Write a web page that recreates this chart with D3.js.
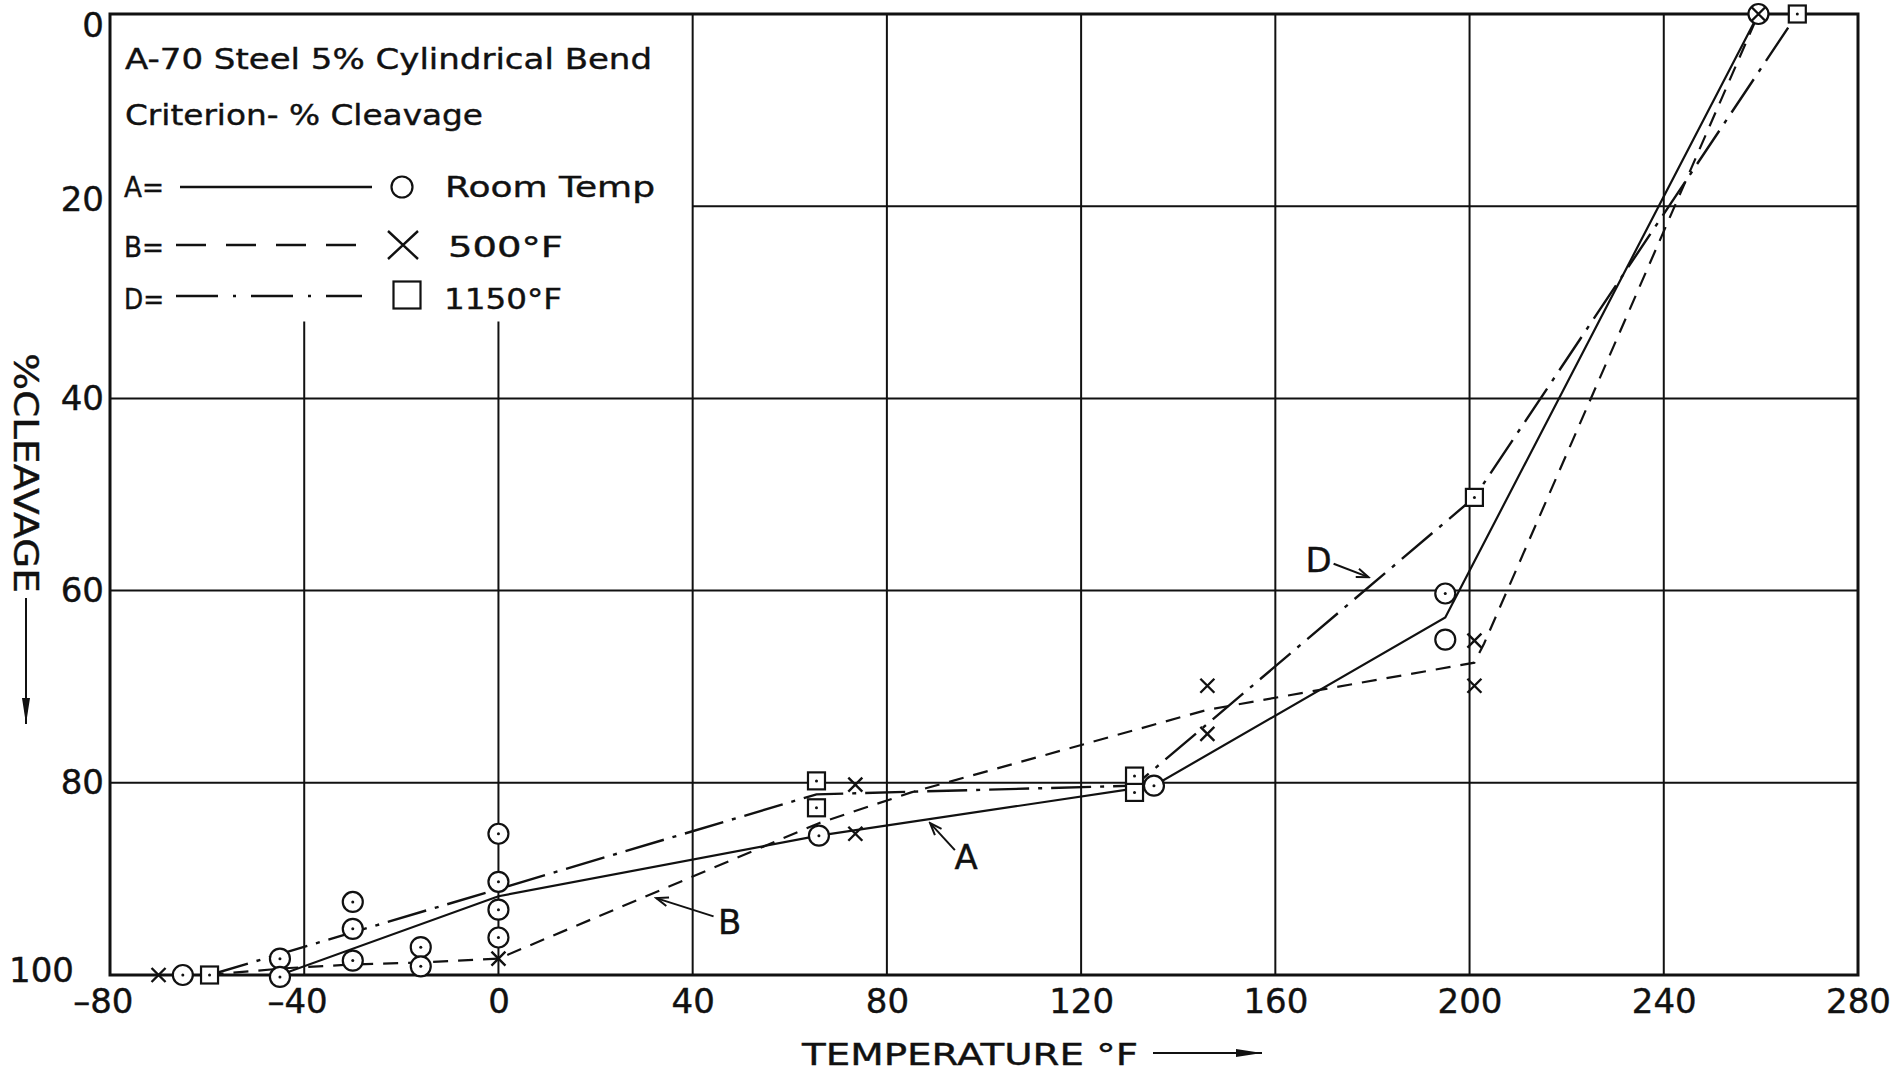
<!DOCTYPE html>
<html>
<head>
<meta charset="utf-8">
<title>A-70 Steel - % Cleavage vs Temperature</title>
<script src="https://cdn.jsdelivr.net/npm/d3@7"></script>
<style>
  body { margin: 0; background: #fff; }
  svg { display: block; font-family: "DejaVu Sans", sans-serif; }
  text { fill: #111; stroke: #111; stroke-width: 0.4px; }
</style>
</head>
<body>
<svg id="chart" width="1904" height="1072"></svg>
<script>
// ticks
const xTicks = [-80, -40, 0, 40, 80, 120, 160, 200, 240, 280];
const xTickLabels = ["\u201380", "\u201340", "0", "40", "80", "120", "160", "200", "240", "280"];
const yTicks = [0, 20, 40, 60, 80, 100];
const yTickLabels = ["0", "20", "40", "60", "80", "100"];

// A = room temp, circles
const roomX = [-65, -45, -45, -30, -30, -30, -16, -16, 0, 0, 0, 0, 66, 135, 195, 259.5];
const roomY = [100, 98.3, 100.2, 92.4, 95.2, 98.5, 97.1, 99.1, 85.3, 90.3, 93.2, 96.1, 85.5, 80.3, 60.3, 0];
const roomOpenX = [195];
const roomOpenY = [65.1];
const lineAX = [-65, -45, 0, 66, 135, 195, 259.5];
const lineAY = [100, 100, 91.8, 85.5, 80.3, 62.8, 0];

// B = 500F, crosses
const f500X = [-70, 0, 73.5, 73.5, 146, 146, 201, 201, 259.5];
const f500Y = [100, 98.3, 80.2, 85.3, 69.9, 74.9, 65.2, 69.9, 0];
const lineBX = [-70, -60, -44, -30, -16, 0, 66, 85, 146, 201, 203, 259.5];
const lineBY = [100, 100, 99.3, 98.9, 98.7, 98.3, 84.2, 81.0, 72.4, 67.5, 65.5, 0];

// D = 1150F, squares
const f1150X = [-59.5, 65.5, 65.5, 131, 131, 201, 267.5];
const f1150Y = [100, 79.8, 82.6, 79.3, 81.0, 50.3, 0];
const lineDX = [-59.5, 65.5, 131, 201, 267.5];
const lineDY = [100, 81.2, 80.3, 50.3, 0];

// curve labels with arrows
const noteText = ["A", "B", "D"];
const noteX = [96.3, 47.6, 168.9];
const noteY = [87.7, 94.5, 56.8];
const noteFromX = [94.0, 44.3, 172.0];
const noteFromY = [87.0, 93.9, 57.2];
const noteToX = [88.9, 32.5, 179.2];
const noteToY = [84.2, 92.0, 58.6];

const legendTitle = ["A-70 Steel 5% Cylindrical Bend", "Criterion- % Cleavage"];
const legendKeys = ["A=", "B=", "D="];
const legendLabels = ["Room Temp", "500\u00b0F", "1150\u00b0F"];
const xTitle = "TEMPERATURE \u00b0F";
const yTitle = "%CLEAVAGE";

const ink = "#111";
const svg = d3.select("#chart");
svg.append("rect").attr("width", 1904).attr("height", 1072).attr("fill", "#fff");

const x = d3.scaleLinear().domain([-80, 280]).range([110, 1858]);
const y = d3.scaleLinear().domain([0, 100]).range([14, 975]);

const defs = svg.append("defs");
defs.append("marker").attr("id", "vhead")
    .attr("viewBox", "-14 -7 16 14").attr("refX", 0).attr("refY", 0)
    .attr("markerWidth", 16).attr("markerHeight", 14)
    .attr("markerUnits", "userSpaceOnUse").attr("orient", "auto")
  .append("path").attr("d", "M-12,-4.5 L0,0 L-12,4.5")
    .attr("fill", "none").attr("stroke", ink).attr("stroke-width", 2);
defs.append("marker").attr("id", "fhead")
    .attr("viewBox", "-28 -6 30 12").attr("refX", 0).attr("refY", 0)
    .attr("markerWidth", 30).attr("markerHeight", 12)
    .attr("markerUnits", "userSpaceOnUse").attr("orient", "auto")
  .append("path").attr("d", "M-26,-4 L0,0 L-26,4 Z").attr("fill", ink);

// grid - the legend box cuts off the upper-left lines
const grid = svg.append("g").attr("stroke", ink).attr("stroke-width", 2);
xTicks.slice(1, -1).forEach(v => {
  grid.append("line")
    .attr("x1", x(v)).attr("x2", x(v))
    .attr("y1", v <= 0 ? y(32) : y(0)).attr("y2", y(100));
});
yTicks.slice(1, -1).forEach(v => {
  grid.append("line")
    .attr("x1", v === 20 ? x(40) : x(-80)).attr("x2", x(280))
    .attr("y1", y(v)).attr("y2", y(v));
});
svg.append("rect")
  .attr("x", x(-80)).attr("y", y(0))
  .attr("width", x(280) - x(-80)).attr("height", y(100) - y(0))
  .attr("fill", "none").attr("stroke", ink).attr("stroke-width", 3);

// axes (labels only)
const xAxis = svg.append("g").attr("transform", `translate(0,${y(100)})`)
  .call(d3.axisBottom(x).tickValues(xTicks).tickSize(0).tickPadding(10)
    .tickFormat((d, i) => xTickLabels[i]));
xAxis.select(".domain").remove();
xAxis.attr("font-size", 34).attr("font-family", "DejaVu Sans, sans-serif");
xAxis.selectAll("text").attr("fill", ink).attr("y", 38).attr("dy", null)
  .filter(d => d < 0).attr("text-anchor", "end").attr("x", 23);

const yAxis = svg.append("g").attr("transform", `translate(${x(-80)},0)`)
  .call(d3.axisLeft(y).tickValues(yTicks).tickSize(0).tickPadding(6)
    .tickFormat((d, i) => yTickLabels[i]));
yAxis.select(".domain").remove();
yAxis.attr("font-size", 34).attr("font-family", "DejaVu Sans, sans-serif");
yAxis.selectAll("text").attr("fill", ink);
yAxis.selectAll("text").filter(d => d === 0).attr("dy", "0.65em");
yAxis.selectAll("text").filter(d => d === 20).attr("dy", "0.12em");
yAxis.selectAll("text").filter(d => d === 100).attr("x", -36).attr("dy", "0.2em");

// axis titles
svg.append("text").attr("x", 802).attr("y", 1065)
  .attr("font-size", 31).attr("textLength", 336).attr("lengthAdjust", "spacingAndGlyphs")
  .text(xTitle);
svg.append("line").attr("x1", 1153).attr("x2", 1262).attr("y1", 1053).attr("y2", 1053)
  .attr("stroke", ink).attr("stroke-width", 2).attr("marker-end", "url(#fhead)");
svg.append("text").attr("transform", "translate(14,353) rotate(90)")
  .attr("font-size", 33).attr("textLength", 240).attr("lengthAdjust", "spacingAndGlyphs")
  .text(yTitle);
svg.append("line").attr("x1", 26).attr("x2", 26).attr("y1", 598).attr("y2", 724)
  .attr("stroke", ink).attr("stroke-width", 2).attr("marker-end", "url(#fhead)");

// curves
const line = d3.line().x(d => x(d[0])).y(d => y(d[1]));
const curves = svg.append("g").attr("fill", "none").attr("stroke", ink);
curves.append("path").datum(d3.zip(lineAX, lineAY)).attr("d", line)
  .attr("stroke-width", 2.2);
curves.append("path").datum(d3.zip(lineBX, lineBY)).attr("d", line)
  .attr("stroke-width", 2.2).attr("stroke-dasharray", "15,10");
curves.append("path").datum(d3.zip(lineDX, lineDY)).attr("d", line)
  .attr("stroke-width", 2.4).attr("stroke-dasharray", "40,9,4,9");

// markers
function circleMark(g, cx, cy, r, dot) {
  g.append("circle").attr("cx", cx).attr("cy", cy).attr("r", r)
    .attr("fill", "#fff").attr("stroke", ink).attr("stroke-width", 2.2);
  if (dot) g.append("circle").attr("cx", cx).attr("cy", cy).attr("r", 1.5).attr("fill", ink);
}
function squareMark(g, cx, cy, s, dot) {
  g.append("rect").attr("x", cx - s / 2).attr("y", cy - s / 2).attr("width", s).attr("height", s)
    .attr("fill", "#fff").attr("stroke", ink).attr("stroke-width", 2.2);
  if (dot) g.append("circle").attr("cx", cx).attr("cy", cy).attr("r", 1.5).attr("fill", ink);
}
function crossMark(g, cx, cy, hw, hh) {
  g.append("path")
    .attr("d", `M${cx - hw},${cy - hh}L${cx + hw},${cy + hh}M${cx - hw},${cy + hh}L${cx + hw},${cy - hh}`)
    .attr("fill", "none").attr("stroke", ink).attr("stroke-width", 2.4);
}

const marks = svg.append("g");
d3.zip(roomX, roomY).forEach(p => circleMark(marks, x(p[0]), y(p[1]), 10, true));
d3.zip(roomOpenX, roomOpenY).forEach(p => circleMark(marks, x(p[0]), y(p[1]), 10, false));
d3.zip(f1150X, f1150Y).forEach(p => squareMark(marks, x(p[0]), y(p[1]), 17, true));
d3.zip(f500X, f500Y).forEach(p => crossMark(marks, x(p[0]), y(p[1]), 7, 7));

// curve labels
const notes = svg.append("g");
noteText.forEach((t, i) => {
  notes.append("text").attr("x", x(noteX[i])).attr("y", y(noteY[i]))
    .attr("dy", "0.36em").attr("text-anchor", "middle").attr("font-size", 34).text(t);
  notes.append("line")
    .attr("x1", x(noteFromX[i])).attr("y1", y(noteFromY[i]))
    .attr("x2", x(noteToX[i])).attr("y2", y(noteToY[i]))
    .attr("stroke", ink).attr("stroke-width", 2).attr("marker-end", "url(#vhead)");
});

// legend
const lg = svg.append("g").attr("font-size", 28);
lg.append("text").attr("x", 125).attr("y", 69)
  .attr("textLength", 527).attr("lengthAdjust", "spacingAndGlyphs").text(legendTitle[0]);
lg.append("text").attr("x", 125).attr("y", 125)
  .attr("textLength", 358).attr("lengthAdjust", "spacingAndGlyphs").text(legendTitle[1]);

const rowBase = [197, 257, 309];
const rowMid = [187, 245, 296];
const labelX = [445, 448, 444];
const labelW = [210, 115, 118];
legendKeys.forEach((k, i) => {
  lg.append("text").attr("x", 124).attr("y", rowBase[i])
    .attr("textLength", 40).attr("lengthAdjust", "spacingAndGlyphs").text(k);
  lg.append("text").attr("x", labelX[i]).attr("y", rowBase[i])
    .attr("textLength", labelW[i]).attr("lengthAdjust", "spacingAndGlyphs").text(legendLabels[i]);
});
lg.append("line").attr("x1", 180).attr("x2", 372).attr("y1", rowMid[0]).attr("y2", rowMid[0])
  .attr("stroke", ink).attr("stroke-width", 2.4);
circleMark(lg, 402, rowMid[0], 10.5, false);
lg.append("line").attr("x1", 176).attr("x2", 372).attr("y1", rowMid[1]).attr("y2", rowMid[1])
  .attr("stroke", ink).attr("stroke-width", 2.4).attr("stroke-dasharray", "30,20");
crossMark(lg, 403, rowMid[1], 15, 14);
lg.append("line").attr("x1", 176).attr("x2", 362).attr("y1", rowMid[2]).attr("y2", rowMid[2])
  .attr("stroke", ink).attr("stroke-width", 2.4).attr("stroke-dasharray", "42,15,3,15");
squareMark(lg, 407, rowMid[2] - 1, 27, false);
</script>
</body>
</html>
